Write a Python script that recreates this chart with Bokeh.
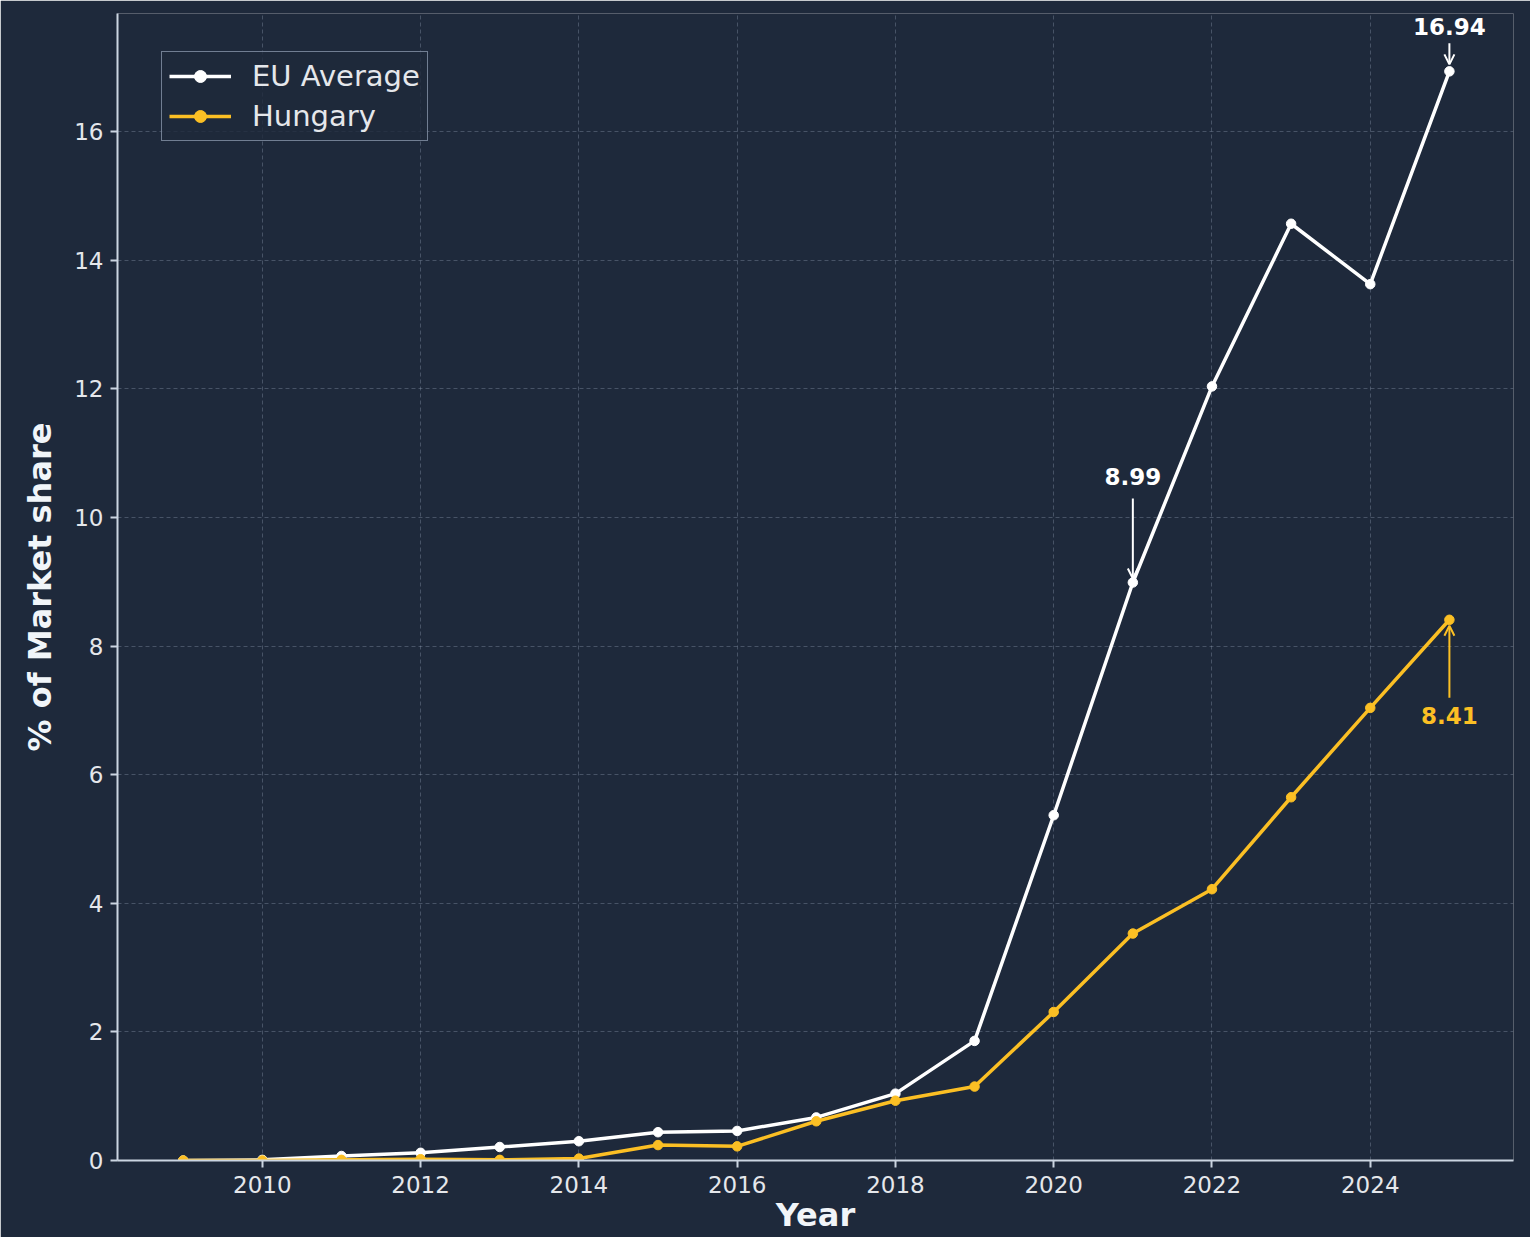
from bokeh.plotting import figure
from bokeh.models import Range1d, FixedTicker, Arrow, OpenHead, Label
from bokeh.embed import file_html
from bokeh.resources import INLINE

# Share of new car registrations that are battery-electric (%)
years = list(range(2009, 2026))
eu_average = [0.00, 0.01, 0.07, 0.12, 0.21, 0.30, 0.44, 0.46, 0.67, 1.04,
              1.86, 5.37, 8.99, 12.04, 14.57, 13.63, 16.94]
hungary = [0.00, 0.00, 0.01, 0.02, 0.01, 0.03, 0.24, 0.22, 0.61, 0.93,
           1.15, 2.31, 3.53, 4.22, 5.65, 7.04, 8.41]

x_ticks = [2010, 2012, 2014, 2016, 2018, 2020, 2022, 2024]
y_ticks = [0, 2, 4, 6, 8, 10, 12, 14, 16]

BG = "#1e293b"
EU_COLOR = "#ffffff"
HU_COLOR = "#fbbf24"
TEXT = "#e5e7eb"
SPINE = "#cbd5e1"
FONT = "DejaVu Sans"

W, H = 1530, 1237
LEFT, RIGHT, TOP, BOTTOM = 117, 17, 13, 77
frame_h = H - TOP - BOTTOM

y_min, y_max = 0, 17.84
x_min, x_max = 2008.17, 2025.81

p = figure(width=W, height=H, output_backend="svg", toolbar_location=None,
           x_range=Range1d(x_min, x_max), y_range=Range1d(y_min, y_max),
           min_border_left=LEFT, min_border_right=RIGHT,
           min_border_top=TOP, min_border_bottom=BOTTOM)

p.background_fill_color = BG
p.border_fill_color = BG
p.outline_line_color = None

# grid
for g in (p.xgrid, p.ygrid):
    g.grid_line_color = "#94a3b8"
    g.grid_line_alpha = 0.35
    g.grid_line_dash = "4 3"
    g.grid_line_width = 1
p.xgrid.ticker = FixedTicker(ticks=x_ticks)
p.ygrid.ticker = FixedTicker(ticks=y_ticks)

# axes
p.xaxis.ticker = FixedTicker(ticks=x_ticks)
p.yaxis.ticker = FixedTicker(ticks=y_ticks)
for ax in (p.xaxis, p.yaxis):
    ax.axis_line_color = SPINE
    ax.axis_line_width = 2
    ax.major_tick_line_color = SPINE
    ax.major_tick_line_width = 2
    ax.major_tick_out = 7
    ax.major_tick_in = 0
    ax.minor_tick_line_color = None
    ax.major_label_text_color = TEXT
    ax.major_label_text_font = FONT
    ax.major_label_text_font_size = "23px"
    ax.axis_label_text_color = "#f1f5f9"
    ax.axis_label_text_font = FONT
    ax.axis_label_text_font_size = "32px"
    ax.axis_label_text_font_style = "bold"
p.xaxis.axis_label = "Year"
p.yaxis.axis_label = "% of Market share"
p.xaxis.major_label_standoff = 8
p.xaxis.axis_label_standoff = 0
p.yaxis.major_label_standoff = 7
p.yaxis.axis_label_standoff = 12

# series
for vals, color, name in ((eu_average, EU_COLOR, "EU Average"),
                          (hungary, HU_COLOR, "Hungary")):
    p.line(years, vals, line_color=color, line_width=3.5, legend_label=name)
    p.scatter(years, vals, marker="circle", size=9.5, fill_color=color,
              line_color=color, legend_label=name)

# value call-outs: (year, value, colour, text offset px, arrow start px, arrow end px)
px_to_units = (y_max - y_min) / frame_h
callouts = [
    (years[12], eu_average[12], EU_COLOR, 106, 84, 4),
    (years[16], eu_average[16], EU_COLOR, 45, 28, 7),
    (years[16], hungary[16], HU_COLOR, -96, -78, -6),
]
for x, v, color, t_off, a_start, a_end in callouts:
    p.add_layout(Label(x=x, y=v + t_off * px_to_units, text=f"{v:.2f}",
                       text_align="center", text_baseline="middle",
                       text_color=color, text_font=FONT,
                       text_font_size="23px", text_font_style="bold"))
    p.add_layout(Arrow(x_start=x, y_start=v + a_start * px_to_units,
                       x_end=x, y_end=v + a_end * px_to_units,
                       line_color=color, line_width=2,
                       end=OpenHead(size=10, line_color=color, line_width=2)))

# legend, anchored 44px right of and 38px below the frame's top-left corner
LEG_H = 90
lg = p.legend[0]
lg.location = (44, frame_h - 38 - LEG_H)
lg.margin = 0
lg.padding = 7
lg.spacing = 6
lg.glyph_width = 62
lg.glyph_height = 30
lg.label_standoff = 21
lg.label_height = 30
lg.label_text_font = FONT
lg.label_text_font_size = "29px"
lg.label_text_color = TEXT
lg.background_fill_color = BG
lg.background_fill_alpha = 0.8
lg.border_line_color = "#94a3b8"
lg.border_line_alpha = 0.7
lg.border_line_width = 1

open("out.html", "w").write(file_html(p, INLINE))
